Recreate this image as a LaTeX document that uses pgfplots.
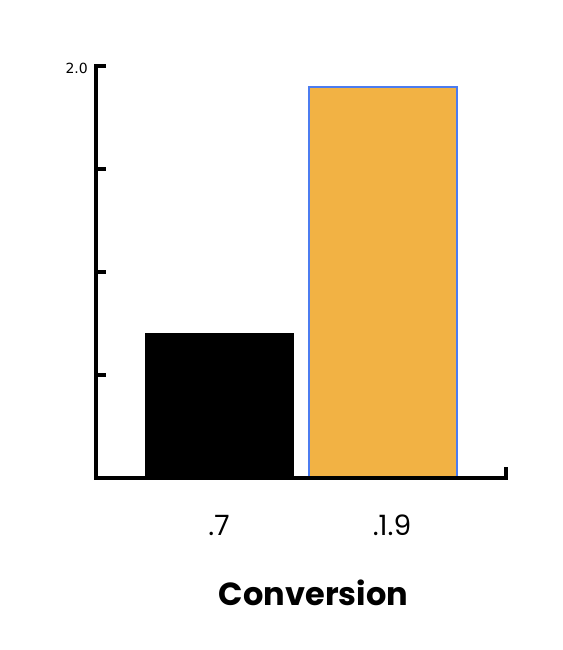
\documentclass[border=0pt]{standalone}
\usepackage{fontspec}
\usepackage{pgfplots}
\pgfplotsset{compat=1.18}
\setmainfont{Poppins}
\newfontfamily\tickfont{DejaVu Sans}
\definecolor{barorange}{HTML}{F2B244}
\definecolor{barblue}{HTML}{4C7CF0}
\begin{document}
\begin{tikzpicture}
\path[use as bounding box] (-96pt,-172.5pt) rectangle (466pt,477.5pt);
\begin{axis}[
    at={(0,0)}, anchor=south west,
    scale only axis,
    width=410pt, height=411pt,
    axis x line=bottom, axis y line=left,
    axis line style={line width=4pt, black, -, line cap=rect},
    axis on top,
    ybar, bar width=148pt,
    xmin=-0.748, xmax=1.745,
    ymin=0, ymax=2,
    tick align=inside,
    major tick length=10pt,
    major tick style={line width=4pt, black},
    ytick={0.5,1,1.5,2},
    yticklabels={,,,2.0},
    yticklabel style={font=\tickfont\fontsize{14}{14}\selectfont,
        inner sep=0pt, xshift=-8pt, yshift=-1.5pt},
    xtick={1.745},
    xticklabels={},
    extra x ticks={0,1},
    extra x tick labels={.7,\hspace*{17pt}.1.9},
    extra x tick style={major tick length=0pt,
        xticklabel style={anchor=base, yshift=-57.5pt, inner sep=0pt,
            font=\fontsize{28}{28}\selectfont}},
    xlabel={Conversion},
    xlabel style={at={(axis description cs:0.5305,0)}, anchor=base,
        yshift=-127.5pt, inner sep=0pt,
        font=\fontsize{32}{32}\selectfont\bfseries},
]
\addplot[fill=black, draw=black, line width=1pt, bar shift=0pt] coordinates {(0,0.7)};
\addplot[fill=barorange, draw=barblue, line width=2pt, bar shift=0pt] coordinates {(1,1.9)};
\end{axis}
\end{tikzpicture}
\end{document}
